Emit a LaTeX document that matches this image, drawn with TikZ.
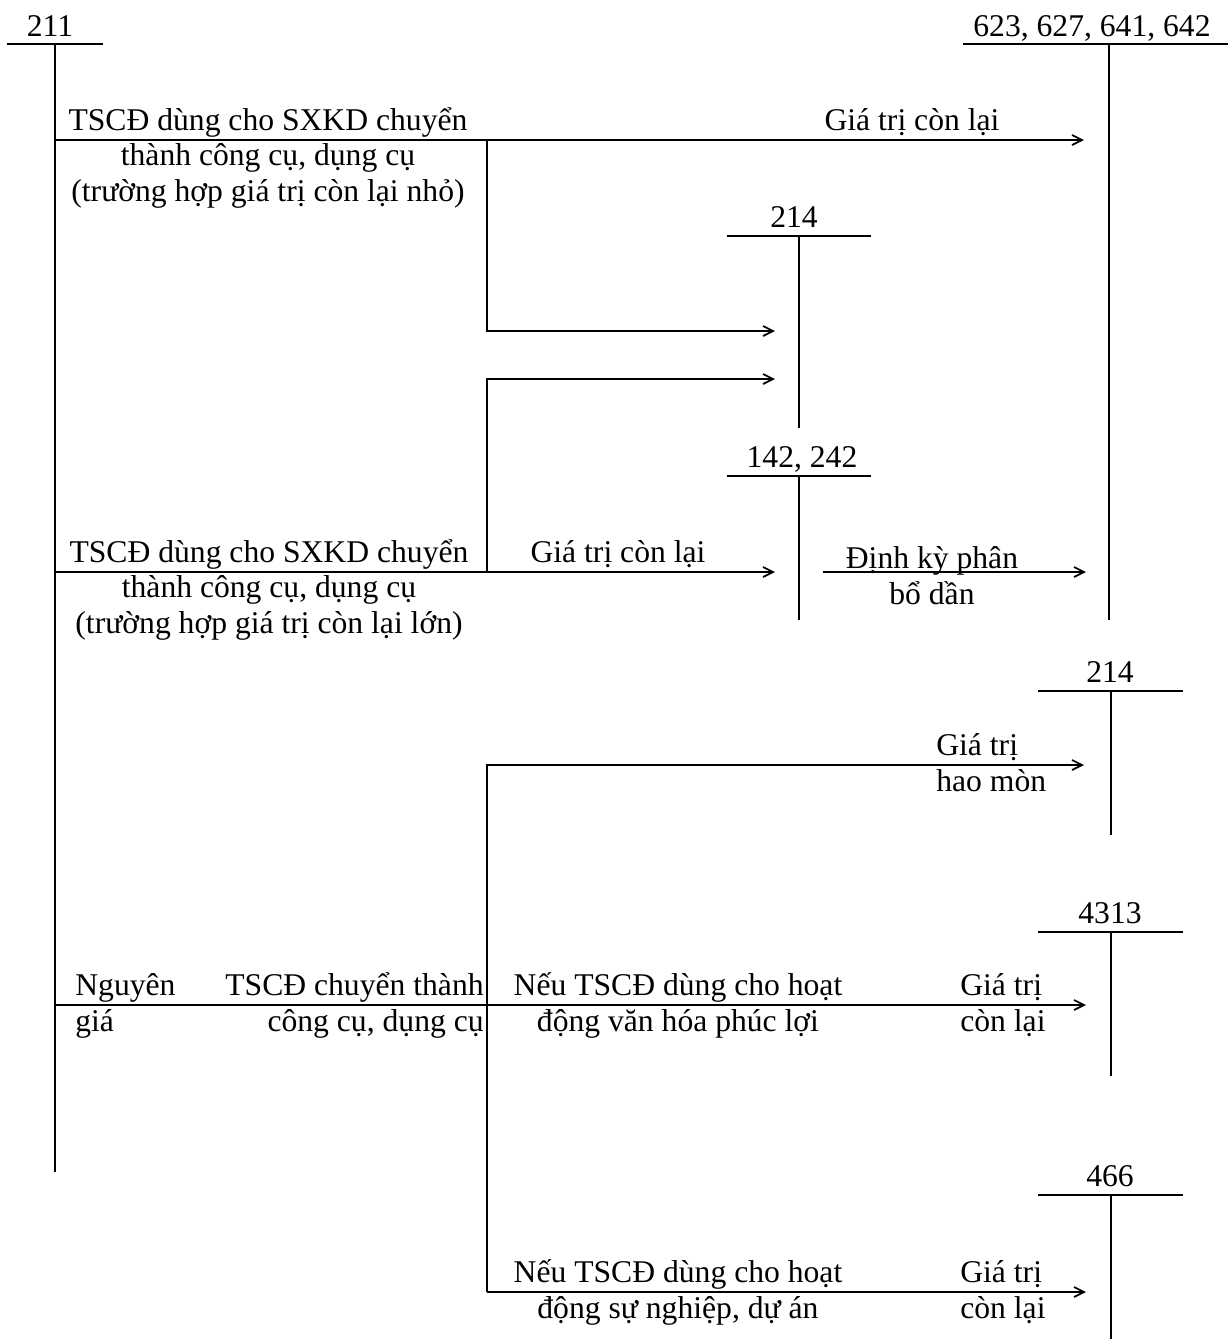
\documentclass[tikz,border=0pt]{standalone}
\usepackage{fontspec}
\setmainfont{Liberation Serif}
\usetikzlibrary{arrows.meta}
\tikzset{
  tacc/.style={line width=1pt},
  flow/.style={line width=1pt, -{Straight Barb[length=2mm,width=2mm]}},
  txt/.style={inner sep=0pt, align=center, anchor=base},
}
\begin{document}
\begin{tikzpicture}[x=0.2mm, y=-0.2mm, font=\fontsize{18}{20}\selectfont]
\useasboundingbox (0,0) rectangle (1228,1339);

% tai khoan chu T
\draw[tacc] (7,44) -- (103,44) (55,44) -- (55,1172);
\node[txt] (t211) at (50,36) {211};
\draw[tacc] (963,44) -- (1228,44) (1109,44) -- (1109,620);
\node[txt] (t623) at (1092,36) {623, 627, 641, 642};
\draw[tacc] (727,236) -- (871,236) (799,236) -- (799,428);
\node[txt] (t214a) at (794,227) {214};
\draw[tacc] (727,476) -- (871,476) (799,476) -- (799,620);
\node[txt] (t142) at (802,467) {142, 242};
\foreach \y/\acc in {691/214, 932/4313, 1195/466} {
  \draw[tacc] (1038,\y) -- (1183,\y) (1111,\y) -- ++(0,144);
  \node[txt] (t\acc) at (1110,\y-9) {\acc};
}

% diem dau, diem cuoi
\coordinate (s1) at (55,140);   \coordinate (e1) at (1084,140);
\coordinate (k1) at (487,140);  \coordinate (e2) at (775,331);
\coordinate (s2) at (55,572);   \coordinate (e3) at (775,572);
\coordinate (k2) at (487,572);  \coordinate (e4) at (775,379);
\coordinate (s3) at (823,572);  \coordinate (e5) at (1086,572);
\coordinate (s4) at (55,1005);  \coordinate (e6) at (1086,1005);
\coordinate (k3) at (487,1292); \coordinate (e7) at (1084,765);
\coordinate (e8) at (1086,1292);

\draw[flow] (s1) -- (e1);
\draw[flow] (k1) |- (e2);
\draw[flow] (s2) -- (e3);
\draw[flow] (k2) |- (e4);
\draw[flow] (s3) -- (e5);
\draw[flow] (s4) -- (e6);
\draw[flow] (k3) |- (e7);
\draw[flow] (k3) -- (e8);

% nhan (base = dong cuoi)
\node[txt] (l1) at (268,201) {TSCĐ dùng cho SXKD chuyển\\thành công cụ, dụng cụ\\(trường hợp giá trị còn lại nhỏ)};
\node[txt] (l2) at (912,130) {Giá trị còn lại};
\node[txt] (l3) at (269,633) {TSCĐ dùng cho SXKD chuyển\\thành công cụ, dụng cụ\\(trường hợp giá trị còn lại lớn)};
\node[txt] (l4) at (618,562) {Giá trị còn lại};
\node[txt] (l5) at (932,604) {Định kỳ phân\\bổ dần};
\node[txt, anchor=base west, align=left] (l6) at (936,791) {Giá trị\\hao mòn};
\node[txt, anchor=base west, align=left] (l7) at (75,1031) {Nguyên\\giá};
\node[txt, anchor=base east, align=right] (l8) at (484,1031) {TSCĐ chuyển thành\\công cụ, dụng cụ};
\node[txt] (l9) at (678,1031) {Nếu TSCĐ dùng cho hoạt\\động văn hóa phúc lợi};
\node[txt, anchor=base west, align=left] (l10) at (960,1031) {Giá trị\\còn lại};
\node[txt] (l11) at (678,1318) {Nếu TSCĐ dùng cho hoạt\\động sự nghiệp, dự án};
\node[txt, anchor=base west, align=left] (l12) at (960,1318) {Giá trị\\còn lại};
\end{tikzpicture}
\end{document}
